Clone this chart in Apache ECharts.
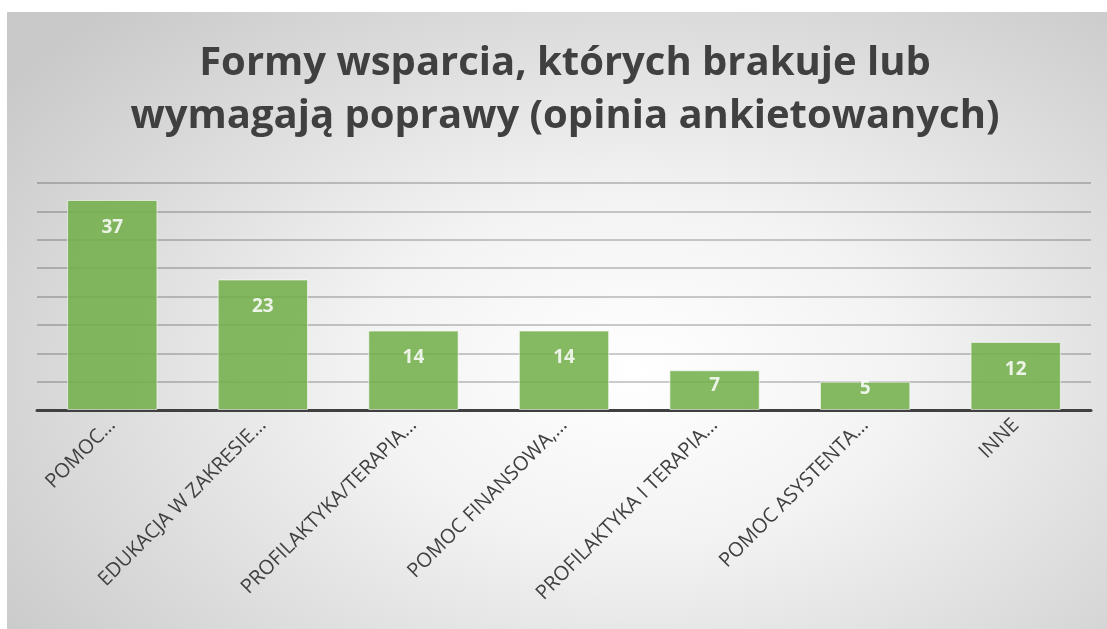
<!DOCTYPE html>
<html>
<head>
<meta charset="utf-8">
<script src="https://cdn.jsdelivr.net/npm/echarts@6/dist/echarts.min.js"></script>
<style>
html,body{margin:0;padding:0;background:#fff;width:1107px;height:629px;overflow:hidden;}
#c{position:absolute;left:7px;top:12px;width:1100px;height:617px;
background:radial-gradient(ellipse 70% 80% at 57% 58%, #ffffff 0%, #f3f3f3 35%, #d9d9d9 75%, #c9c9c9 100%);}
</style>
</head>
<body>
<div id="c"></div>
<script>
const titleText = 'Formy wsparcia, których brakuje lub\nwymagają poprawy (opinia ankietowanych)';
const categories = ['POMOC…', 'EDUKACJA W ZAKRESIE…', 'PROFILAKTYKA/TERAPIA…', 'POMOC FINANSOWA,…', 'PROFILAKTYKA I TERAPIA…', 'POMOC ASYSTENTA…', 'INNE'];
const values = [37, 23, 14, 14, 7, 5, 12];
const yMin = 0, yMax = 40, yStep = 5;

const chart = echarts.init(document.getElementById('c'), null, {renderer: 'canvas'});
chart.setOption({
  backgroundColor: 'transparent',
  animation: false,
  title: {
    text: titleText,
    left: 553, top: 20, textAlign: 'center',
    textStyle: {fontFamily: 'Open Sans', fontWeight: 'bold', fontSize: 40, lineHeight: 53, color: '#404040'}
  },
  grid: {left: 30, right: 16, top: 171, bottom: 219, containLabel: false},
  xAxis: {
    type: 'category', data: categories,
    axisLine: {show: true, lineStyle: {color: '#404040', width: 3}},
    axisTick: {show: false},
    axisLabel: {rotate: 45, interval: 0, margin: 12, fontFamily: 'Open Sans', fontSize: 20, color: '#404040'}
  },
  yAxis: {
    type: 'value', min: yMin, max: yMax, interval: yStep,
    axisLabel: {show: false}, axisLine: {show: false}, axisTick: {show: false},
    splitLine: {show: true, lineStyle: {color: 'rgba(0,0,0,0.2)', width: 2}}
  },
  series: [{
    type: 'bar', barWidth: '60%',
    data: values.map(v => ({value: v, label: {distance: v < 8 ? (v < 6 ? -3 : 6) : 18}})),
    itemStyle: {color: '#70ad47', opacity: 0.85, borderColor: 'rgba(255,255,255,0.7)', borderWidth: 1},
    label: {show: true, position: 'insideTop', fontFamily: 'Open Sans', fontWeight: 'bold', fontSize: 19, color: '#ffffff'}
  }]
});
</script>
</body>
</html>
